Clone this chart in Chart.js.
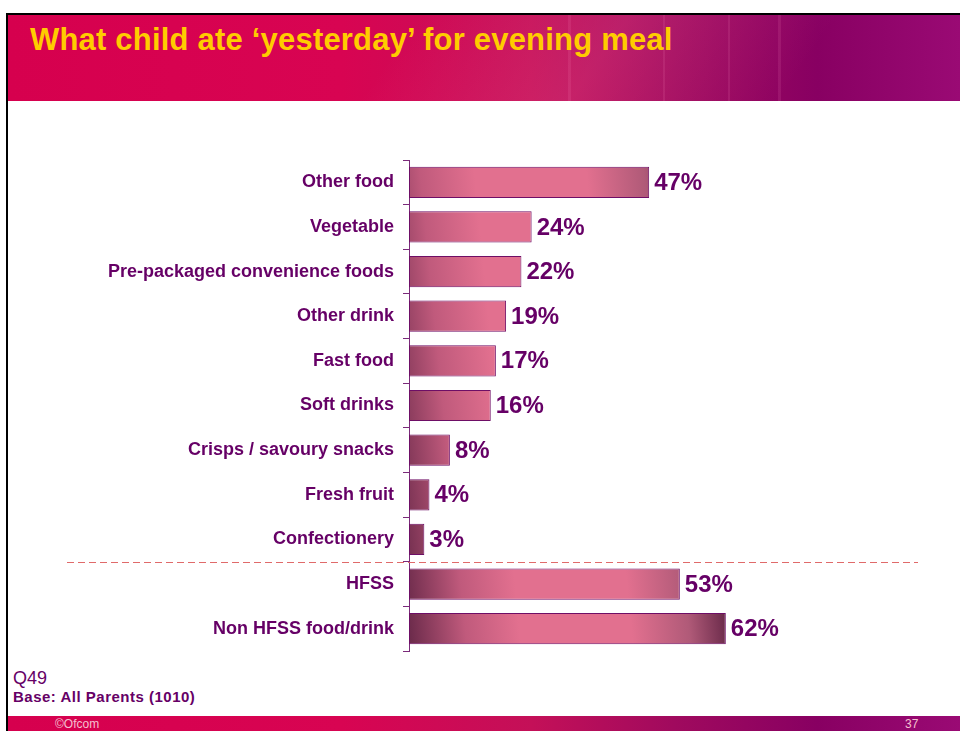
<!DOCTYPE html>
<html>
<head>
<meta charset="utf-8">
<script src="https://cdn.jsdelivr.net/npm/chart.js@4.4.1/dist/chart.umd.min.js"></script>
<style>
  body { margin: 0; width: 960px; height: 731px; background: #fff; position: relative; overflow: hidden; font-family: "Liberation Sans", Arial, sans-serif; }
  #frame { position: absolute; left: 6px; top: 13px; width: 960px; height: 720px; border-left: 2px solid #000; border-top: 2px solid #000; }
  #header { position: absolute; left: 8px; top: 15px; width: 952px; height: 86px; overflow: hidden;
    background: linear-gradient(90deg, #d6004e 0%, #d80452 35%, #c41058 55%, #a00a5e 70%, #880062 85%, #9a0a74 100%); }
  #header .streak { position: absolute; top: 0; height: 86px; width: 3px; background: rgba(255,150,200,0.12); }
  #header .glow { position: absolute; top: -40px; left: 380px; width: 420px; height: 170px; transform: skewX(-35deg);
    background: linear-gradient(90deg, rgba(255,120,170,0) 0%, rgba(255,120,170,0.18) 50%, rgba(255,120,170,0) 100%); }
  #title { position: absolute; left: 30px; top: 24px; line-height: 31px; color: #ffcc00; font-weight: bold; font-size: 31px; letter-spacing: 0.2px; white-space: nowrap; }
  #footer { position: absolute; left: 8px; top: 716px; width: 952px; height: 15px;
    background: linear-gradient(90deg, #d6004e 0%, #d80452 35%, #c41058 55%, #a00a5e 70%, #880062 85%, #9a0a74 100%); }
  #copy { position: absolute; left: 55px; top: 717px; color: #f4c0d0; font-size: 12px; }
  #page { position: absolute; left: 905px; top: 717px; color: #f4c0d0; font-size: 12px; }
  #q { position: absolute; left: 13px; top: 668px; color: #660066; font-size: 18px; }
  #base { position: absolute; left: 13px; top: 688px; color: #660066; font-size: 15px; letter-spacing: 0.5px; font-weight: bold; }
  canvas { position: absolute; left: 0; top: 0; }
</style>
</head>
<body>
<div id="frame"></div>
<div id="header">
  <div class="glow"></div>
  <div class="streak" style="left:560px"></div>
  <div class="streak" style="left:655px;width:2px"></div>
  <div class="streak" style="left:720px;width:2px"></div>
  <div class="streak" style="left:770px"></div>
</div>
<div id="title">What child ate ‘yesterday’ for evening meal</div>
<div id="q">Q49</div>
<div id="base">Base: All Parents (1010)</div>
<div id="footer"></div>
<div id="copy">©Ofcom</div>
<div id="page">37</div>
<canvas id="chart" width="960" height="731"></canvas>
<script>
//Categories
const Labels = [
"Other food",
"Vegetable",
"Pre-packaged convenience foods",
"Other drink",
"Fast food",
"Soft drinks",
"Crisps / savoury snacks",
"Fresh fruit",
"Confectionery",
"HFSS",
"Non HFSS food/drink",
];

//Percent values
const Values = [47, 24, 22, 19, 17, 16, 8, 4, 3, 53, 62];

//Dashed separator goes after this index
const SplitAfter = 8;

//Colours
const textPurple = '#660066';
const barEdge = '#6e0e66';

//Gives each bar its shaded look
const barShade = {
  id: 'barShade',
  beforeDatasetsDraw(chart) {
    const ctx = chart.ctx;
    chart.getDatasetMeta(0).data.forEach(function (bar) {
      const top = bar.y - bar.height / 2;
      const bottom = bar.y + bar.height / 2;
      const g = ctx.createLinearGradient(bar.base, bottom, bar.x, top);
      g.addColorStop(0, '#6a2a4a');
      g.addColorStop(0.18, '#c05a7c');
      g.addColorStop(0.35, '#e2708f');
      g.addColorStop(0.7, '#e2708f');
      g.addColorStop(0.88, '#b05a78');
      g.addColorStop(1, '#6a2a4a');
      bar.options.backgroundColor = g;
    });
  }
};

//Value labels and dashed line
const extras = {
  id: 'extras',
  afterDatasetsDraw(chart) {
    const ctx = chart.ctx;
    const bars = chart.getDatasetMeta(0).data;
    ctx.save();
    ctx.font = 'bold 24px "Liberation Sans", Arial, sans-serif';
    ctx.fillStyle = textPurple;
    ctx.textAlign = 'left';
    ctx.textBaseline = 'middle';
    bars.forEach(function (bar, i) {
      ctx.fillText(Values[i] + '%', bar.x + 5, bar.y + 1);
    });
    const y = Math.round((bars[SplitAfter].y + bars[SplitAfter + 1].y) / 2) + 0.5;
    ctx.strokeStyle = '#e06a6a';
    ctx.lineWidth = 1;
    ctx.setLineDash([7, 4]);
    ctx.beginPath();
    ctx.moveTo(67, y);
    ctx.lineTo(918, y);
    ctx.stroke();
    ctx.restore();
  }
};

const config = {
  type: 'bar',
  data: {
    labels: Labels,
    datasets: [{
      data: Values,
      backgroundColor: '#e2708f',
      borderColor: barEdge,
      borderWidth: 1,
      borderSkipped: false,
      categoryPercentage: 1,
      barPercentage: 0.7,
    }]
  },
  options: {
    indexAxis: 'y',
    responsive: false,
    animation: false,
    layout: { padding: { top: 160, bottom: 80, right: 40, left: 0 } },
    scales: {
      x: { display: false, min: 0, max: 100 },
      y: {
        afterFit(scale) { scale.width = 409; },
        border: { display: true, color: '#7a2a7a', width: 1 },
        grid: { drawOnChartArea: false, tickLength: 6, color: '#7a2a7a', offset: true },
        ticks: {
          padding: 9,
          color: textPurple,
          font: { family: '"Liberation Sans", Arial, sans-serif', size: 18, weight: 'bold' }
        }
      }
    },
    plugins: {
      legend: { display: false },
      tooltip: { enabled: false }
    }
  },
  plugins: [barShade, extras]
};

var chart = new Chart(document.getElementById('chart'), config);
</script>
</body>
</html>
